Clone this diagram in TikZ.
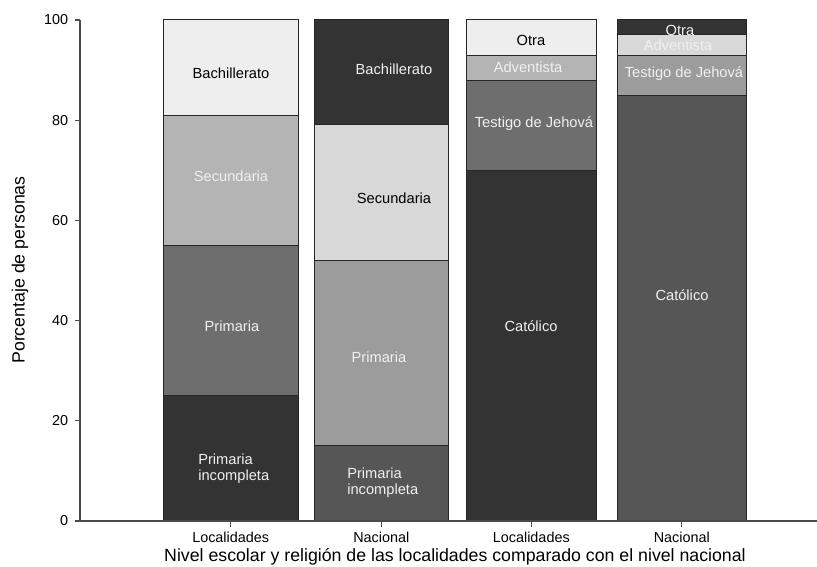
\documentclass[tikz,border=0pt]{standalone}
\usepackage{fontspec}
\setmainfont{Liberation Sans}
\definecolor{gA}{HTML}{333333}
\definecolor{gB}{HTML}{6E6E6E}
\definecolor{gC}{HTML}{B4B4B4}
\definecolor{gD}{HTML}{EEEEEE}
\definecolor{gE}{HTML}{565656}
\definecolor{gF}{HTML}{9C9C9C}
\definecolor{gG}{HTML}{D8D8D8}
\definecolor{axisc}{HTML}{4A4A4A}
\begin{document}
\begin{tikzpicture}[x=0.75pt,y=-0.75pt,
  seg/.style={draw=black!85, line width=0.75pt},
  lbl/.style={font=\fontsize{11}{12}\selectfont, inner sep=0pt},
  wl/.style={lbl, text=white!94!black},
  bl/.style={lbl, text=black},
  tickl/.style={font=\fontsize{10.8}{12}\selectfont, inner sep=0pt, text=black},
  axisline/.style={draw=axisc, line width=1.2pt},
  tk/.style={draw=axisc, line width=0.9pt}]
\useasboundingbox (0,0) rectangle (817,567);
% bar 1: Localidades (nivel escolar)
\fill[gA] (163,521) rectangle (298.5,395.75);
\fill[gB] (163,395.75) rectangle (298.5,245.45);
\fill[gC] (163,245.45) rectangle (298.5,115.8);
\fill[gD] (163,115.8) rectangle (298.5,20);
\draw[seg] (163,521) rectangle (298.5,20);
\draw[seg] (163,395.75) -- (298.5,395.75) (163,245.45) -- (298.5,245.45) (163,115.8) -- (298.5,115.8);
% bar 2: Nacional (nivel escolar)
\fill[gE] (314,521) rectangle (448.7,445.85);
\fill[gF] (314,445.85) rectangle (448.7,260.48);
\fill[gG] (314,260.48) rectangle (448.7,124.2);
\fill[gA] (314,124.2) rectangle (448.7,20);
\draw[seg] (314,521) rectangle (448.7,20);
\draw[seg] (314,445.85) -- (448.7,445.85) (314,260.48) -- (448.7,260.48) (314,124.2) -- (448.7,124.2);
% bar 3: Localidades (religion)
\fill[gA] (466.7,521) rectangle (596,170.3);
\fill[gB] (466.7,170.3) rectangle (596,80.1);
\fill[gC] (466.7,80.1) rectangle (596,55.1);
\fill[gD] (466.7,55.1) rectangle (596,20);
\draw[seg] (466.7,521) rectangle (596,20);
\draw[seg] (466.7,170.3) -- (596,170.3) (466.7,80.1) -- (596,80.1) (466.7,55.1) -- (596,55.1);
% bar 4: Nacional (religion)
\fill[gE] (617.7,521) rectangle (746,95.15);
\fill[gF] (617.7,95.15) rectangle (746,55.1);
\fill[gG] (617.7,55.1) rectangle (746,35.0);
\fill[gA] (617.7,35.0) rectangle (746,20);
\draw[seg] (617.7,521) rectangle (746,20);
\draw[seg] (617.7,95.15) -- (746,95.15) (617.7,55.1) -- (746,55.1) (617.7,35.0) -- (746,35.0);
% segment labels
\node[bl] (b1d) at (231,73) {Bachillerato};
\node[wl] (b1c) at (231,176) {Secundaria};
\node[wl] (b1b) at (232,326) {Primaria};
\node[wl, align=left, anchor=west] (b1a) at (198,469) {Primaria\\incompleta};
\node[wl] (b2d) at (394,69) {Bachillerato};
\node[bl] (b2c) at (394,198) {Secundaria};
\node[wl] (b2b) at (379,357) {Primaria};
\node[wl, align=left, anchor=west] (b2a) at (347,483) {Primaria\\incompleta};
\node[bl] (b3d) at (531,40) {Otra};
\node[wl] (b3c) at (528,67) {Adventista};
\node[wl] (b3b) at (534,124) {Testigo de Jehová};
\node[wl] (b3a) at (531,326) {Católico};
\node[wl] (b4d) at (680,30) {Otra};
\node[wl] (b4c) at (678,45) {Adventista};
\node[wl] (b4b) at (684,74) {Testigo de Jehová};
\node[wl] (b4a) at (682,295) {Católico};
% axes
\draw[axisline] (80,20) -- (80,521);
\draw[axisline] (80,521) -- (817,521);
\foreach \v/\yy in {0/521,20/420.8,40/320.6,60/220.4,80/120.2,100/20} {
  \draw[tk] (74.5,\yy) -- (80,\yy);
  \node[tickl, anchor=east] (yt\v) at (68.5,\yy) {\v};
}
\foreach \n/\xx/\t in {1/230.7/Localidades,2/381.3/Nacional,3/531.3/Localidades,4/681.8/Nacional} {
  \draw[tk] (\xx,521) -- (\xx,527);
  \node[tickl] (xt\n) at (\xx,537) {\t};
}
\node[font=\fontsize{13.3}{15}\selectfont, inner sep=0pt] (xtitle) at (455,556.5) {Nivel escolar y religión de las localidades comparado con el nivel nacional};
\node[font=\fontsize{13.3}{15}\selectfont, inner sep=0pt, rotate=90] (ytitle) at (20,270) {Porcentaje de personas};
\end{tikzpicture}
\end{document}
